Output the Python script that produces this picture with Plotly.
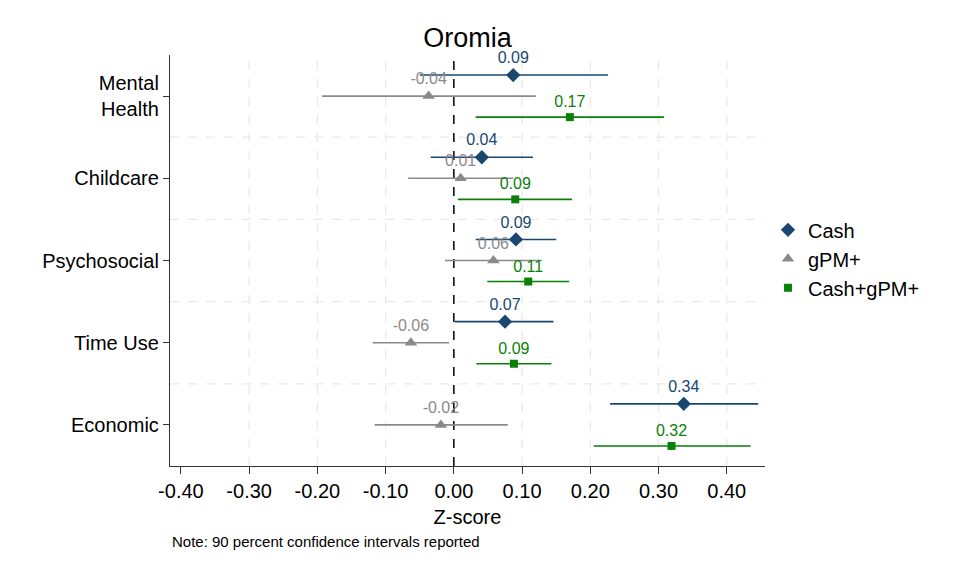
import plotly.graph_objects as go

categories = ["Mental<br>Health", "Childcare", "Psychosocial", "Time Use", "Economic"]
series_names = ["Cash", "gPM+", "Cash+gPM+"]

cash_est = [0.087, 0.041, 0.091, 0.075, 0.337]
cash_lo = [-0.050, -0.034, 0.032, 0.001, 0.229]
cash_hi = [0.226, 0.116, 0.150, 0.146, 0.446]

gpm_est = [-0.037, 0.010, 0.058, -0.063, -0.019]
gpm_lo = [-0.193, -0.067, -0.013, -0.119, -0.116]
gpm_hi = [0.120, 0.087, 0.129, -0.007, 0.079]

combo_est = [0.170, 0.090, 0.109, 0.088, 0.319]
combo_lo = [0.032, 0.006, 0.049, 0.033, 0.205]
combo_hi = [0.308, 0.173, 0.169, 0.143, 0.435]

x_ticks = [-0.4, -0.3, -0.2, -0.1, 0.0, 0.1, 0.2, 0.3, 0.4]

FONT = "Liberation Sans, Arial, sans-serif"
n = len(categories)
base = [n - i for i in range(n)]  # top category highest

series = [
    ("Cash", cash_est, cash_lo, cash_hi, "#1a476f", "diamond", 11, 0.256),
    ("gPM+", gpm_est, gpm_lo, gpm_hi, "#8a8a8a", "triangle-up", 11, 0.0),
    ("Cash+gPM+", combo_est, combo_lo, combo_hi, "#0a800a", "square", 8, -0.256),
]

fig = go.Figure()
for name, est, lo, hi, col, sym, sz, off in series:
    ys = [b + off for b in base]
    fig.add_trace(go.Scatter(
        x=est, y=ys, name=name, mode="markers+text",
        text=[f"{v:.2f}" for v in est], textposition="top center",
        textfont=dict(color=col, size=16, family=FONT),
        marker=dict(symbol=sym, size=sz, color=col),
        error_x=dict(type="data", symmetric=False,
                     array=[h - e for h, e in zip(hi, est)],
                     arrayminus=[e - l for e, l in zip(est, lo)],
                     color=col, thickness=1.6, width=0),
        cliponaxis=False,
    ))

shapes = []
for t in x_ticks[1:]:
    if t == 0:
        continue
    shapes.append(dict(type="line", xref="x", yref="paper", x0=t, x1=t, y0=0, y1=0.988,
                       line=dict(color="#e9e9e9", width=1.3, dash="dash"), layer="below"))
for i in range(n - 1):
    yv = base[i] - 0.5
    shapes.append(dict(type="line", xref="paper", yref="y", x0=0, x1=1, y0=yv, y1=yv,
                       line=dict(color="#e9e9e9", width=1.3, dash="dash"), layer="below"))
shapes.append(dict(type="line", xref="x", yref="paper", x0=0, x1=0, y0=0, y1=1,
                   line=dict(color="black", width=1.5, dash="dash"), layer="below"))

fig.update_layout(
    width=954, height=573,
    margin=dict(l=170, r=189, t=55, b=107),
    paper_bgcolor="white", plot_bgcolor="white",
    font=dict(family=FONT, color="black"),
    title=dict(text="Oromia", x=0.49, xanchor="center", y=0.935, yanchor="middle",
               font=dict(size=27, family=FONT, color="black")),
    shapes=shapes,
    showlegend=True,
    legend=dict(x=1.005, y=0.504, xanchor="left", yanchor="middle",
                font=dict(size=20, family=FONT), tracegroupgap=0,
                bgcolor="rgba(0,0,0,0)"),
    annotations=[dict(text="Note: 90 percent confidence intervals reported", xref="paper", yref="paper",
                      x=0.0, y=-0.183, xanchor="left", yanchor="middle", showarrow=False,
                      font=dict(size=15, family=FONT, color="black"))],
)

fig.update_xaxes(
    range=[-0.416, 0.456], tickvals=x_ticks, ticktext=[f"{t:.2f}" for t in x_ticks],
    showgrid=False, zeroline=False, showline=True, linecolor="#333", linewidth=1.3,
    ticks="outside", ticklen=7, tickcolor="#333", tickwidth=1.3,
    tickfont=dict(size=20, family=FONT, color="black"),
    title=dict(text="Z-score", font=dict(size=20, family=FONT, color="black"), standoff=8),
)
fig.update_yaxes(
    range=[0.5, n + 0.5], tickvals=base, ticktext=categories,
    showgrid=False, zeroline=False, showline=True, linecolor="#333", linewidth=1.3,
    ticks="outside", ticklen=6, tickcolor="#333", tickwidth=1.3,
    tickfont=dict(size=20, family=FONT, color="black"),
)

fig.write_html("out.html")
